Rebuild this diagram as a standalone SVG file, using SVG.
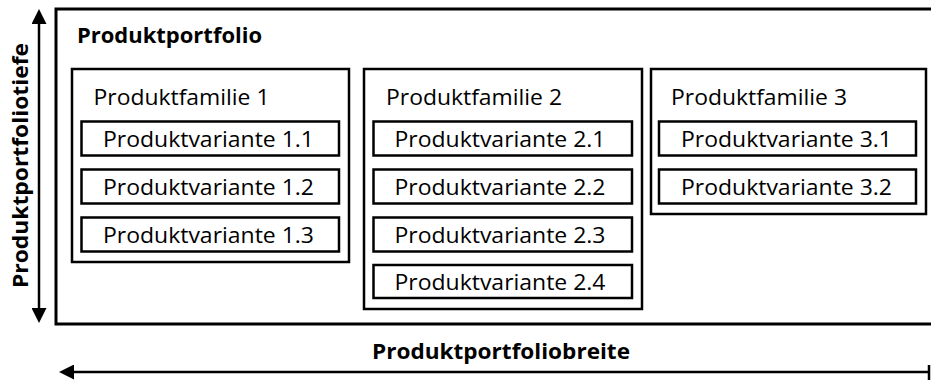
<svg xmlns="http://www.w3.org/2000/svg" width="931" height="381" viewBox="0 0 931 381">
  <style>
    .frame { fill: #fff; stroke: #000; stroke-width: 3; }
    .box { fill: #fff; stroke: #000; stroke-width: 2.5; }
    .lbl { font-family: "Open Sans", "Noto Sans", sans-serif; font-size: 21.5px; fill: #000; }
    .bold { font-family: "Open Sans", "Noto Sans", sans-serif; font-size: 21px; font-weight: bold; fill: #000; }
    .axis { stroke: #000; stroke-width: 2.5; fill: none; }
  </style>
  <defs>
    <marker id="head" viewBox="0 0 15 15" refX="0" refY="7.5" markerWidth="15" markerHeight="15" markerUnits="userSpaceOnUse" orient="auto">
      <path d="M0,0 L15,7.5 L0,15 Z" fill="#000"/>
    </marker>
  </defs>

  <rect width="931" height="381" fill="#fff"/>

  <!-- portfolio frame, open to the right -->
  <g id="portfolio">
    <rect class="frame" x="56" y="9" width="900" height="315"/>
    <text class="bold" x="77" y="42.5" textLength="185" lengthAdjust="spacingAndGlyphs">Produktportfolio</text>
  </g>

  <!-- family 1 -->
  <g id="familie1">
    <rect class="box" x="72" y="69" width="277" height="193"/>
    <text class="lbl" x="93.5" y="104.5" textLength="176" lengthAdjust="spacingAndGlyphs">Produktfamilie 1</text>
  </g>
  <g id="variante1_1">
    <rect class="box" x="81.5" y="121.5" width="257.5" height="34"/>
    <text class="lbl" x="208.5" y="147" text-anchor="middle" textLength="211" lengthAdjust="spacingAndGlyphs">Produktvariante 1.1</text>
  </g>
  <g id="variante1_2">
    <rect class="box" x="81.5" y="169.5" width="257.5" height="34"/>
    <text class="lbl" x="208.5" y="195" text-anchor="middle" textLength="211" lengthAdjust="spacingAndGlyphs">Produktvariante 1.2</text>
  </g>
  <g id="variante1_3">
    <rect class="box" x="81.5" y="217.5" width="257.5" height="34"/>
    <text class="lbl" x="208.5" y="243" text-anchor="middle" textLength="211" lengthAdjust="spacingAndGlyphs">Produktvariante 1.3</text>
  </g>

  <!-- family 2 -->
  <g id="familie2">
    <rect class="box" x="364" y="69" width="278" height="240"/>
    <text class="lbl" x="386" y="104.5" textLength="176" lengthAdjust="spacingAndGlyphs">Produktfamilie 2</text>
  </g>
  <g id="variante2_1">
    <rect class="box" x="373.5" y="121.5" width="258.5" height="34"/>
    <text class="lbl" x="500" y="147" text-anchor="middle" textLength="211" lengthAdjust="spacingAndGlyphs">Produktvariante 2.1</text>
  </g>
  <g id="variante2_2">
    <rect class="box" x="373.5" y="169.5" width="258.5" height="34"/>
    <text class="lbl" x="500" y="195" text-anchor="middle" textLength="211" lengthAdjust="spacingAndGlyphs">Produktvariante 2.2</text>
  </g>
  <g id="variante2_3">
    <rect class="box" x="373.5" y="217.5" width="258.5" height="34"/>
    <text class="lbl" x="500" y="243" text-anchor="middle" textLength="211" lengthAdjust="spacingAndGlyphs">Produktvariante 2.3</text>
  </g>
  <g id="variante2_4">
    <rect class="box" x="373.5" y="265" width="258.5" height="33"/>
    <text class="lbl" x="500" y="290" text-anchor="middle" textLength="211" lengthAdjust="spacingAndGlyphs">Produktvariante 2.4</text>
  </g>

  <!-- family 3 -->
  <g id="familie3">
    <rect class="box" x="651" y="69" width="275" height="145"/>
    <text class="lbl" x="671" y="104.5" textLength="176" lengthAdjust="spacingAndGlyphs">Produktfamilie 3</text>
  </g>
  <g id="variante3_1">
    <rect class="box" x="659" y="121.5" width="257" height="34"/>
    <text class="lbl" x="786.5" y="147" text-anchor="middle" textLength="211" lengthAdjust="spacingAndGlyphs">Produktvariante 3.1</text>
  </g>
  <g id="variante3_2">
    <rect class="box" x="659" y="169.5" width="257" height="34"/>
    <text class="lbl" x="786.5" y="195" text-anchor="middle" textLength="211" lengthAdjust="spacingAndGlyphs">Produktvariante 3.2</text>
  </g>

  <!-- dimension arrows -->
  <g id="connectors">
    <line class="axis" x1="39" y1="166" x2="39" y2="24" marker-end="url(#head)"/>
    <line class="axis" x1="39" y1="166" x2="39" y2="308" marker-end="url(#head)"/>
    <line class="axis" x1="929" y1="372" x2="74" y2="372" marker-end="url(#head)"/>
    <line class="axis" x1="929" y1="365" x2="929" y2="380"/>
  </g>

  <!-- axis labels -->
  <text class="bold" transform="translate(27.5,165.5) rotate(-90)" x="0" y="0" text-anchor="middle" textLength="245" lengthAdjust="spacingAndGlyphs">Produktportfoliotiefe</text>
  <text class="bold" x="501" y="359" text-anchor="middle" textLength="258" lengthAdjust="spacingAndGlyphs">Produktportfoliobreite</text>
</svg>
